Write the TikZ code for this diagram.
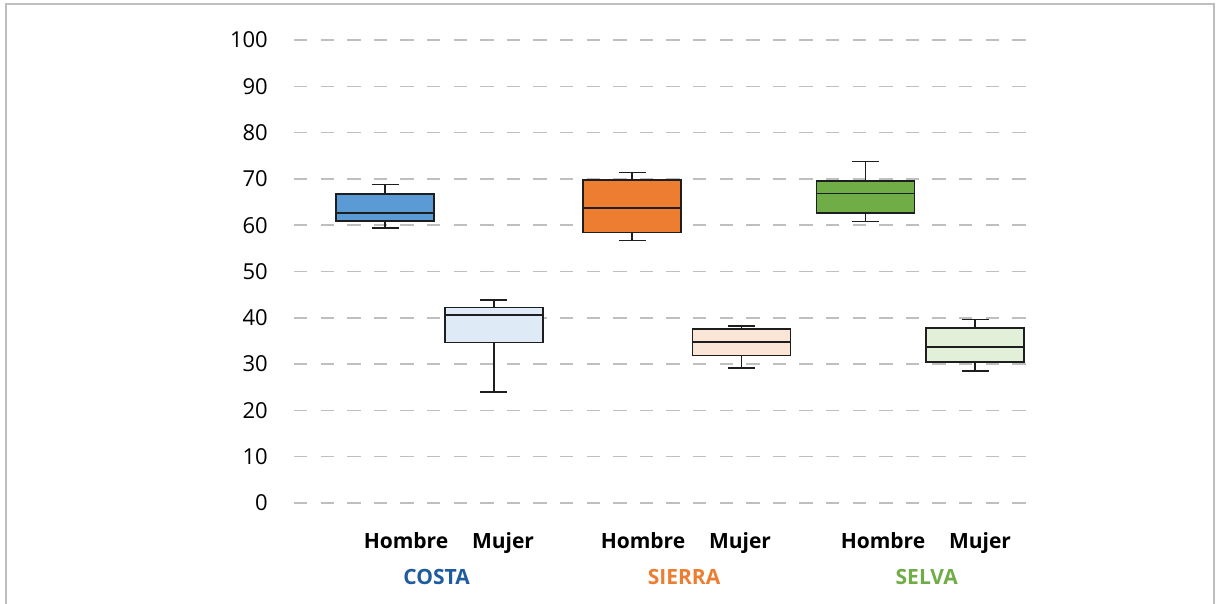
\documentclass[tikz,border=0pt]{standalone}
\usepackage{fontspec}
\setmainfont{Open Sans}
\definecolor{gridc}{RGB}{191,191,191}
\definecolor{framec}{RGB}{190,190,190}
\definecolor{costac}{RGB}{30,92,158}
\definecolor{sierrac}{RGB}{237,125,49}
\definecolor{selvac}{RGB}{112,173,71}
\definecolor{chf}{RGB}{91,155,213}
\definecolor{cmf}{RGB}{222,235,247}
\definecolor{shf}{RGB}{237,125,49}
\definecolor{smf}{RGB}{251,229,214}
\definecolor{vhf}{RGB}{112,173,71}
\definecolor{vmf}{RGB}{226,240,217}
\definecolor{linec}{RGB}{30,30,30}
\tikzset{
  bx/.style={draw=linec, line width=1.6pt, rectangle, inner sep=0pt, outer sep=0pt, minimum width=98pt},
  wh/.style={draw=linec, line width=1.6pt},
  gridln/.style={draw=gridc, line width=1.5pt, dash pattern=on 13.3pt off 13.3pt},
  ylab/.style={anchor=east, font=\fontsize{22}{26}\selectfont, inner sep=0pt},
  xlab/.style={anchor=base, font=\fontsize{21}{25}\selectfont\bfseries, inner sep=0pt},
}
\newcommand\mybox[8]{%
  \node[bx, fill=#8, minimum height={(#4)-(#3)}] (#1) at (#2,{((#3)+(#4))/2}) {};
  \coordinate (#1m) at (#2,#5);
  \coordinate (#1t) at (#2,#6);
  \coordinate (#1b) at (#2,#7);
  \draw[wh] (#1.west |- #1m) -- (#1.east |- #1m);
  \draw[wh] (#1.north) -- (#1t);
  \draw[wh] ([xshift=-13.5pt]#1t) -- ([xshift=13.5pt]#1t);
  \draw[wh] (#1.south) -- (#1b);
  \draw[wh] ([xshift=-13.5pt]#1b) -- ([xshift=13.5pt]#1b);
}
\begin{document}
\begin{tikzpicture}[x=1pt,y=-1pt]
\useasboundingbox (0,0) rectangle (1216,604);
\fill[white] (0,0) rectangle (1216,604);
% frame
\draw[framec, line width=2pt] (6,604) -- (6,4) -- (1214,4) -- (1214,604);
% grid and y labels
\foreach \v in {0,10,...,100}{
  \pgfmathsetmacro\yy{503-4.63*\v}
  \coordinate (gl\v) at (294,\yy);
  \coordinate (gr\v) at (1030,\yy);
  \draw[gridln] (gl\v) -- (gr\v);
  \node[ylab] (yl\v) at (268,\yy) {\v};
}
% boxes
\mybox{ch}{385}{194}{221.3}{213.3}{184.7}{228.3}{chf}
\mybox{cm}{493.7}{307.3}{342.3}{314.7}{300}{392}{cmf}
\mybox{sh}{632}{180.3}{232.7}{208}{172.7}{240.7}{shf}
\mybox{sm}{741.5}{328.7}{355.3}{342}{326}{367.7}{smf}
\mybox{vh}{865.5}{181.3}{213}{193.7}{161.7}{221.7}{vhf}
\mybox{vm}{975}{327.7}{361.7}{346.7}{319.3}{370.7}{vmf}
% category labels
\node[xlab] (ch-l) at (406,548.3) {Hombre};
\node[xlab] (cm-l) at (503,548.3) {Mujer};
\node[xlab] (sh-l) at (643,548.3) {Hombre};
\node[xlab] (sm-l) at (740,548.3) {Mujer};
\node[xlab] (vh-l) at (883,548.3) {Hombre};
\node[xlab] (vm-l) at (980,548.3) {Mujer};
\node[xlab, text=costac] (costa) at (436.6,584) {COSTA};
\node[xlab, text=sierrac] (sierra) at (684,584) {SIERRA};
\node[xlab, text=selvac] (selva) at (926.7,584) {SELVA};
\end{tikzpicture}
\end{document}
